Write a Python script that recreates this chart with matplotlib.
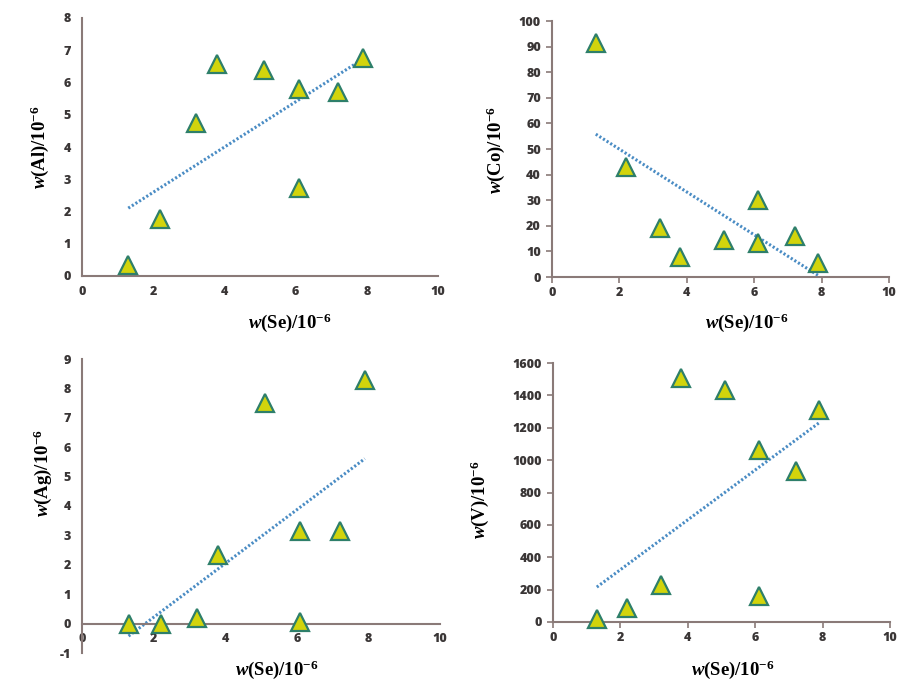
import numpy as np
import matplotlib
matplotlib.use("Agg")
import matplotlib.pyplot as plt

# ---- data ----
se = [1.3, 2.2, 3.2, 3.8, 5.1, 6.1, 6.1, 7.2, 7.9]
al = [0.35, 1.77, 4.74, 6.57, 6.40, 5.80, 2.72, 5.71, 6.76]
co = [91.5, 43.0, 19.3, 7.8, 14.6, 30.2, 13.3, 15.9, 5.6]
ag = [0.0, 0.0, 0.2, 2.35, 7.5, 3.15, 0.05, 3.15, 8.3]
v = [20, 86, 230, 1507, 1435, 1065, 158, 933, 1308]

panels = [
    ("Al", al, (0, 8), np.arange(0, 9, 1)),
    ("Co", co, (0, 100), np.arange(0, 101, 10)),
    ("Ag", ag, (-1, 9), np.arange(-1, 10, 1)),
    ("V", v, (0, 1600), np.arange(0, 1601, 200)),
]
xticks = [0, 2, 4, 6, 8, 10]

plt.rcParams['font.family'] = ['Open Sans', 'DejaVu Sans']
plt.rcParams['font.weight'] = 'heavy'
plt.rcParams['axes.unicode_minus'] = False
plt.rcParams['mathtext.fontset'] = 'custom'
plt.rcParams['mathtext.rm'] = 'Liberation Serif:bold'
plt.rcParams['mathtext.it'] = 'Liberation Serif:bold:italic'
plt.rcParams['mathtext.bf'] = 'Liberation Serif:bold'

W, H = 920, 681
fig = plt.figure(figsize=(W / 100, H / 100), dpi=100)
fig.patch.set_facecolor('white')

def px(x0, y0, x1, y1):
    return [x0 / W, 1 - y1 / H, (x1 - x0) / W, (y1 - y0) / H]

rects = [px(82, 18, 438, 276), px(552, 21, 889, 277),
         px(82, 359, 440, 653), px(553, 363, 890, 622)]
xlab_pos = [(290, 323), (747, 323), (277, 670), (733, 670)]
ylab_pos = [(40, 147), (496, 150), (43, 473), (480, 500)]

spine_c = '#8a7a78'
tick_c = '#3a3636'
fill_c = '#d2d40c'
edge_c = '#2e7f6a'
trend_c = '#4a8cc4'

for i, (name, vals, ylim, yt) in enumerate(panels):
    ax = fig.add_axes(rects[i])
    ax.set_xlim(0, 10)
    ax.set_ylim(*ylim)
    ax.set_xticks(xticks)
    ax.set_yticks(yt)
    for s in ['top', 'right']:
        ax.spines[s].set_visible(False)
    for s in ['left', 'bottom']:
        ax.spines[s].set_color(spine_c)
        ax.spines[s].set_linewidth(1.5)
    if ylim[0] < 0:
        ax.spines['bottom'].set_position(('data', 0))
    tl = 4 if i % 2 == 1 else 0
    ax.tick_params(axis='both', colors=spine_c, length=tl, width=1.2,
                   labelcolor=tick_c, labelsize=9)
    ax.tick_params(axis='x', pad=7 if tl == 0 else 3)
    ax.tick_params(axis='y', pad=8 if tl == 0 else 4)
    for lab in ax.get_xticklabels() + ax.get_yticklabels():
        lab.set_fontweight('heavy')
    x = np.array(se)
    y = np.array(vals, dtype=float)
    k, b = np.polyfit(x, y, 1)
    xx = np.array([x.min(), x.max()])
    ax.plot(xx, k * xx + b, color=trend_c, lw=2.2, ls=(0, (0.7, 0.7)),
            zorder=2, clip_on=False)
    ax.plot(x, y, ls='none', marker='^', ms=12.5, mfc=fill_c, mec=edge_c,
            mew=1.6, zorder=3, clip_on=False)
    ax.patch.set_alpha(0)

    xl, yl = xlab_pos[i]
    fig.text(xl / W, 1 - yl / H, r'$\mathit{w}\mathrm{(Se)/10^{-6}}$',
             ha='center', va='center', fontsize=13.5)
    ylx, yly = ylab_pos[i]
    fig.text(ylx / W, 1 - yly / H, r'$\mathit{w}\mathrm{(%s)/10^{-6}}$' % name,
             ha='center', va='center', fontsize=13.5, rotation=90)

fig.savefig('out.png', dpi=100, facecolor='white')
